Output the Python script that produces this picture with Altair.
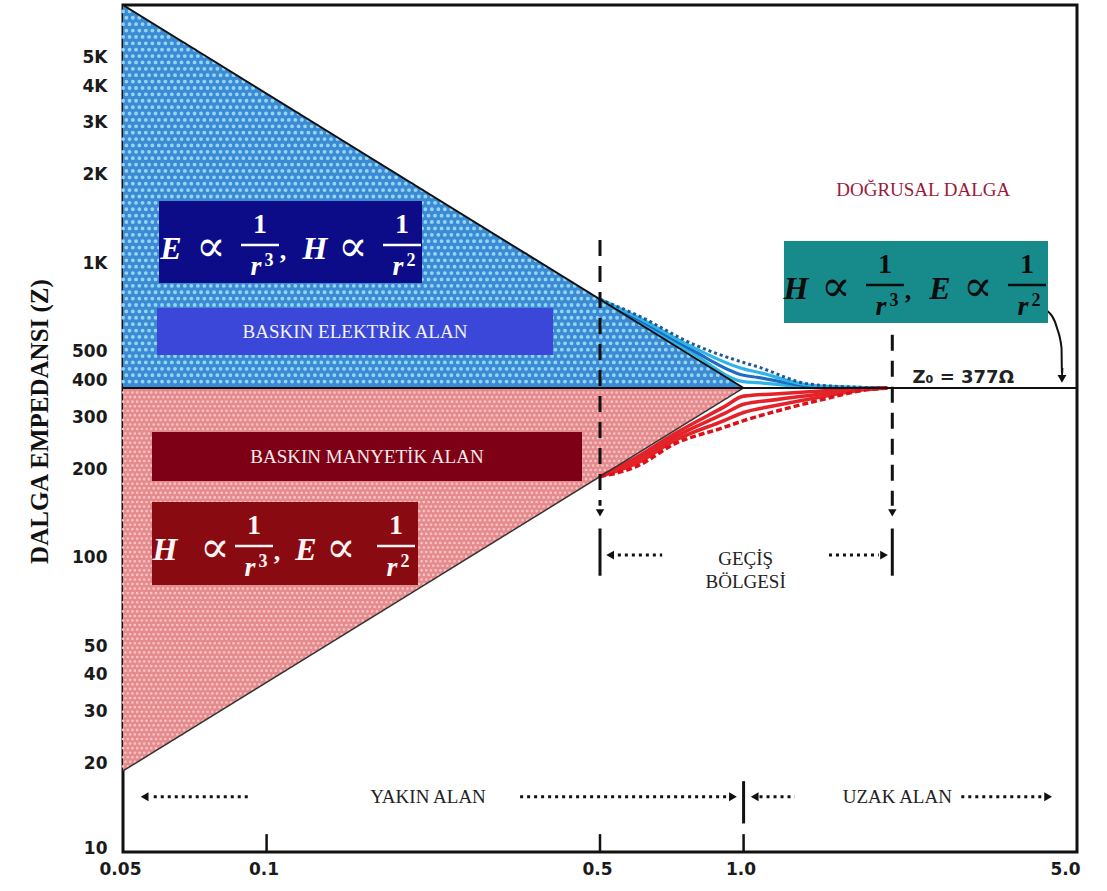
import altair as alt
import numpy as np
import pandas as pd

# ---------------------------------------------------------------- data
# r : distance in units of lambda/2pi      Z : wave impedance (ohm)
R_NEAR = [0.05, 1.0]
Z_E_NEAR = [7540, 377]          # electric-dominant source, Z ~ 1/r
Z_H_NEAR = [18.85, 377]         # magnetic-dominant source, Z ~ r
R_FULL = [0.05, 5.0]
Z_FREE = [377, 377]             # free-space impedance

# transition region: straight near-field edge and the real curve
R_TE = [0.5, 0.6, 0.78, 1.0, 1.07, 1.37, 1.75, 2.0]
Z_TE_EDGE = [754, 628, 483, 377, 377, 377, 377, 377]
Z_TE_CURVE = [754, 665, 533, 460, 445, 389, 379, 377]

R_TH = [0.5, 0.6, 0.715, 0.91, 1.0, 1.16, 1.48, 1.78, 2.0]
Z_TH_EDGE = [188.5, 226, 270, 343, 377, 377, 377, 377, 377]
Z_TH_CURVE = [188.5, 205, 243, 277, 292, 313, 346, 370, 377]

Y_TICKS = [10, 20, 30, 40, 50, 100, 200, 300, 400, 500,
           1000, 2000, 3000, 4000, 5000]
X_TICKS = [0.05, 0.1, 0.5, 1.0, 5.0]
X_TICK_LABELS = ["0.05", "0.1", "0.5", "1.0", "5.0"]
X_INNER_TICKS = [0.1, 0.5, 1.0]

# transition zone markers
ZONE_R = [0.5, 2.05]
ZONE_TOP = [1199, 572]
ZONE_END = [150, 150]
ZONE_HEAD = [142, 142]
ZONE_BAR_LO = [86.8, 86.8]
ZONE_BAR_HI = [125.6, 125.6]

# dotted arrow rows: (start r, end r, Z)
ROW_R1 = [0.058, 0.34, 1.08, 2.86, 0.545, 1.51]
ROW_R2 = [0.092, 0.93, 1.28, 4.25, 0.675, 1.92]
ROW_Z = [15.4, 15.4, 15.4, 15.4, 102, 102]
HEAD_R = [0.0555, 0.95, 1.055, 4.35, 0.525, 1.97, 4.65]
HEAD_Z = [15.4, 15.4, 15.4, 15.4, 102, 102, 405]
HEAD_SHAPE = ["triangle-left", "triangle-right", "triangle-left", "triangle-right",
              "triangle-left", "triangle-right", "triangle-down"]
BAR_R = [1.0]
BAR_LO = [12.5]
BAR_HI = [17.4]

# pointer from the far-field formula to Z0
PTR_R = [4.33, 4.54, 4.64, 4.66, 4.65]
PTR_Z = [690, 603, 516, 441, 410]

# ---------------------------------------------------------------- scales / axes
xs = alt.Scale(type="log", domain=[0.05, 5.0], nice=False)
ys = alt.Scale(type="log", domain=[10, 7540], nice=False)

SERIF = "Liberation Serif"
SANS = "DejaVu Sans"

x_expr = " : ".join(f"datum.value == {v} ? '{s}'" for v, s in zip(X_TICKS, X_TICK_LABELS)) + " : ''"
XAX = alt.Axis(values=X_TICKS, labelExpr=x_expr, title=None, ticks=False, domain=False,
               grid=False, labelFont=SANS, labelFontWeight="bold", labelFontSize=17,
               labelColor="#1a1a1a", labelPadding=9, labelFlush=False,
               labelAlign=alt.condition("datum.value >= 5", alt.value("right"), alt.value("center")),
               labelOffset=alt.condition("datum.value >= 5", alt.value(3), alt.value(-3)))
YAX = alt.Axis(values=Y_TICKS,
               labelExpr="datum.value >= 1000 ? (datum.value / 1000) + 'K' : datum.value + ''",
               title="DALGA EMPEDANSI (Z)", titleFont=SERIF, titleFontWeight="bold",
               titleFontSize=25, titleColor="#111111", titlePadding=19, titleY=416,
               ticks=False, domain=False, grid=False, labelFont=SANS,
               labelFontWeight="bold", labelFontSize=17, labelColor="#1a1a1a",
               labelPadding=16, labelFlush=False,
               labelOffset=alt.condition("datum.value <= 10", alt.value(-4), alt.value(0)))


def X(field="r"):
    return alt.X(f"{field}:Q", scale=xs, axis=XAX)


def Y(field="z"):
    return alt.Y(f"{field}:Q", scale=ys, axis=YAX)


layers = []

# electric- and magnetic-dominant triangles
df_e = pd.DataFrame({"r": R_NEAR, "z": Z_E_NEAR, "z0": Z_FREE})
df_h = pd.DataFrame({"r": R_NEAR, "z": Z_H_NEAR, "z0": Z_FREE})
layers.append(alt.Chart(df_e).mark_area(color="#3b8ad4", opacity=1).encode(x=X(), y=Y(), y2="z0:Q"))
layers.append(alt.Chart(df_h).mark_area(color="#e58a8d", opacity=1).encode(x=X(), y=Y(), y2="z0:Q"))


# stippled fill texture: staggered dotted rows clipped to a triangle
def stipple(r_edge, z_edge, z_base, step_px, px_per_decade):
    lo, hi = sorted([np.log10(z_edge[0]), np.log10(z_base)])
    n = int((hi - lo) * px_per_decade / step_px)
    zs = 10 ** np.linspace(lo, hi, n + 2)[1:-1]
    lz = np.log10(z_edge)
    lr = np.log10(r_edge)
    order = np.argsort(lz)
    r_end = 10 ** np.interp(np.log10(zs), lz[order], lr[order])
    df = pd.DataFrame({"r": r_edge[0], "r2": r_end, "z": zs})
    return df.iloc[::2], df.iloc[1::2]


PX_DEC = 847 / np.log10(7540 / 10)
for r_e, z_e, dot_col, dot_w, step in [
    (R_NEAR, Z_E_NEAR, "#9fdcf6", 3.8, 6.4),
    (R_NEAR, Z_H_NEAR, "#f7c9c9", 2.6, 4.6),
]:
    even, odd = stipple(np.array(r_e), np.array(z_e), Z_FREE[0], step, PX_DEC)
    for part, off in [(even, 0), (odd, step / 2)]:
        layers.append(alt.Chart(part).mark_rule(
            color=dot_col, strokeWidth=dot_w, strokeCap="round", strokeDash=[0.1, step],
            strokeDashOffset=off, opacity=0.9).encode(x=X(), x2="r2:Q", y=Y()))


# transition hatching: bands fanned between the near-field edge and the real curve
def bands(r, edge, curve, fracs, colors):
    rows = []
    for k, (t, c) in enumerate(zip(fracs, colors)):
        for ri, e, cv in zip(r, edge, curve):
            rows.append({"r": ri, "z": 10 ** ((1 - t) * np.log10(e) + t * np.log10(cv)),
                         "k": k, "c": c})
    return pd.DataFrame(rows)


for df_b, w in [
    (bands(R_TE, Z_TE_EDGE, Z_TE_CURVE, [0.25, 0.5, 0.75], ["#2fb4e8", "#1e6cc4", "#2fb4e8"]), 3.2),
    (bands(R_TH, Z_TH_EDGE, Z_TH_CURVE, [0.25, 0.5, 0.75], ["#e4222a", "#e4222a", "#e4222a"]), 3.6),
]:
    layers.append(
        alt.Chart(df_b).mark_line(strokeWidth=w, interpolate="monotone").encode(
            x=X(), y=Y(), detail="k:N", color=alt.Color("c:N", scale=None))
    )

# real transition curves (dotted)
layers.append(
    alt.Chart(pd.DataFrame({"r": R_TE, "z": Z_TE_CURVE})).mark_line(
        color="#1d5796", strokeWidth=3, strokeDash=[3, 3], interpolate="monotone").encode(x=X(), y=Y())
)
layers.append(
    alt.Chart(pd.DataFrame({"r": R_TH, "z": Z_TH_CURVE})).mark_line(
        color="#dd1018", strokeWidth=3.5, strokeDash=[6, 3], interpolate="monotone").encode(x=X(), y=Y())
)

# near-field edges and free-space line
layers.append(alt.Chart(pd.DataFrame({"r": R_NEAR, "z": Z_E_NEAR})).mark_line(
    color="#111111", strokeWidth=2).encode(x=X(), y=Y()))
layers.append(alt.Chart(pd.DataFrame({"r": R_NEAR, "z": Z_H_NEAR})).mark_line(
    color="#333333", strokeWidth=1.5).encode(x=X(), y=Y()))
layers.append(alt.Chart(pd.DataFrame({"r": R_FULL, "z": Z_FREE})).mark_line(
    color="#111111", strokeWidth=2).encode(x=X(), y=Y()))

# inner x ticks
layers.append(alt.Chart(pd.DataFrame({"r": X_INNER_TICKS, "lo": [10] * 3, "hi": [11.5] * 3})).mark_rule(
    color="#111111", strokeWidth=2.5).encode(x=X(), y=Y("lo"), y2="hi:Q"))

# transition zone dashed markers, arrowheads and bars
df_zone = pd.DataFrame({"r": ZONE_R, "top": ZONE_TOP, "end": ZONE_END, "head": ZONE_HEAD,
                        "lo": ZONE_BAR_LO, "hi": ZONE_BAR_HI})
layers.append(alt.Chart(df_zone).mark_rule(color="#111111", strokeWidth=3, strokeDash=[16, 10]).encode(
    x=X(), y=Y("top"), y2="end:Q"))
layers.append(alt.Chart(df_zone).mark_point(shape="triangle-down", filled=True, size=70, opacity=1,
                                            color="#111111").encode(x=X(), y=Y("head")))
layers.append(alt.Chart(df_zone).mark_rule(color="#111111", strokeWidth=3).encode(
    x=X(), y=Y("lo"), y2="hi:Q"))
layers.append(alt.Chart(pd.DataFrame({"r": BAR_R, "lo": BAR_LO, "hi": BAR_HI})).mark_rule(
    color="#111111", strokeWidth=3).encode(x=X(), y=Y("lo"), y2="hi:Q"))

# dotted arrow rows
layers.append(alt.Chart(pd.DataFrame({"r": ROW_R1, "r2": ROW_R2, "z": ROW_Z})).mark_rule(
    color="#111111", strokeWidth=3, strokeDash=[3, 4]).encode(x=X(), x2="r2:Q", y=Y()))
layers.append(alt.Chart(pd.DataFrame({"r": HEAD_R, "z": HEAD_Z, "s": HEAD_SHAPE})).mark_point(
    filled=True, size=80, opacity=1, color="#111111").encode(
    x=X(), y=Y(), shape=alt.Shape("s:N", scale=None)))

# pointer curve
layers.append(alt.Chart(pd.DataFrame({"r": PTR_R, "z": PTR_Z})).mark_line(
    color="#111111", strokeWidth=2, interpolate="monotone").encode(x=X(), y=Y()))


# ---------------------------------------------------------------- annotations
def text_at(txt, x, y, size, color, font=SERIF, weight="normal", style="normal",
            align="center", baseline="alphabetic"):
    return alt.Chart(pd.DataFrame({"t": [txt]})).mark_text(
        font=font, fontSize=size, fontWeight=weight, fontStyle=style, color=color,
        align=align, baseline=baseline).encode(x=alt.value(x), y=alt.value(y), text="t:N")


def box(x0, x1, y0, y1, color):
    return alt.Chart(pd.DataFrame({"t": [0]})).mark_rect(color=color, opacity=1).encode(
        x=alt.value(x0), x2=alt.value(x1), y=alt.value(y0), y2=alt.value(y1))


def hbar(x0, x1, y, color):
    return alt.Chart(pd.DataFrame({"t": [0]})).mark_rule(color=color, strokeWidth=2.5).encode(
        x=alt.value(x0), x2=alt.value(x1), y=alt.value(y))


def formula(cx, cy, a, b, color, shift=None):
    s = shift or {}
    out = []
    for sym, dx in [(a, -120 + s.get("a", 0)), (b, 24 + s.get("b", 0))]:
        out.append(text_at(sym, cx + dx, cy + 17, 32, color, weight="bold", style="italic"))
    for dx in [-80 + s.get("p1", 0), 62 + s.get("p2", 0)]:
        out.append(text_at("\u221d", cx + dx, cy + 19, 44, color, font="DejaVu Serif"))
    for dx, sup in [(-31, "3"), (111, "2")]:
        out.append(text_at("1", cx + dx, cy - 9, 28, color, weight="bold"))
        out.append(hbar(cx + dx - 19, cx + dx + 19, cy + 3, color))
        out.append(text_at("r", cx + dx - 4, cy + 33, 28, color, weight="bold", style="italic"))
        out.append(text_at(sup, cx + dx + 9, cy + 24, 18, color, weight="bold"))
    out.append(text_at(",", cx - 8, cy + 17, 26, color, weight="bold"))
    return out


# boxes (positions in plot pixels)
layers.append(box(36, 299, 196, 278, "#0c0c88"))
layers += formula(168, 237, "E", "H", "#ffffff")

layers.append(box(34, 430, 303, 350, "#3b47d8"))
layers.append(text_at("BASKIN ELEKTR\u0130K ALAN", 232, 333, 19, "#f2f2ff"))

layers.append(box(29, 459, 427, 476, "#7e0016"))
layers.append(text_at("BASKIN MANYET\u0130K ALAN", 244, 458, 19, "#f8eaea"))

layers.append(box(29, 295, 497, 580, "#8a0a12"))
layers += formula(162, 538, "H", "E", "#fff4f4", shift={"p1": 10, "b": -3, "p2": -6})

layers.append(box(661, 925, 236, 318, "#178b8c"))
layers += formula(793, 277, "H", "E", "#0d0d0d")

# data-anchored labels
layers.append(alt.Chart(pd.DataFrame({"r": [2.38], "z": [1780], "t": ["DO\u011eRUSAL DALGA"]})).mark_text(
    font=SERIF, fontSize=19, color="#9b1a3c", baseline="middle").encode(x=X(), y=Y(), text="t:N"))
layers.append(alt.Chart(pd.DataFrame({"r": [2.26], "z": [377], "t": ["Z\u2080 = 377\u03a9"]})).mark_text(
    font=SANS, fontSize=18, fontWeight="bold", color="#222222", align="left", baseline="alphabetic",
    dy=-5).encode(x=X(), y=Y(), text="t:N"))
layers.append(alt.Chart(pd.DataFrame({"r": [1.01], "z": [99], "t": ["GE\u00c7\u0130\u015e\nB\u00d6LGES\u0130"]})).mark_text(
    font=SERIF, fontSize=19, color="#222222", baseline="middle", lineBreak="\n", lineHeight=23).encode(
    x=X(), y=Y(), text="t:N"))
layers.append(alt.Chart(pd.DataFrame({"r": [0.218, 2.1], "z": [15.4, 15.4],
                                      "t": ["YAKIN ALAN", "UZAK ALAN"]})).mark_text(
    font=SERIF, fontSize=19, color="#222222", baseline="middle").encode(x=X(), y=Y(), text="t:N"))

chart = alt.layer(*layers).properties(
    width=954, height=847, autosize="none",
    padding={"left": 123, "top": 5, "right": 30, "bottom": 39},
).configure_view(stroke="#111111", strokeWidth=3)

chart.save("out.html", embed_options={"renderer": "svg", "actions": False})
